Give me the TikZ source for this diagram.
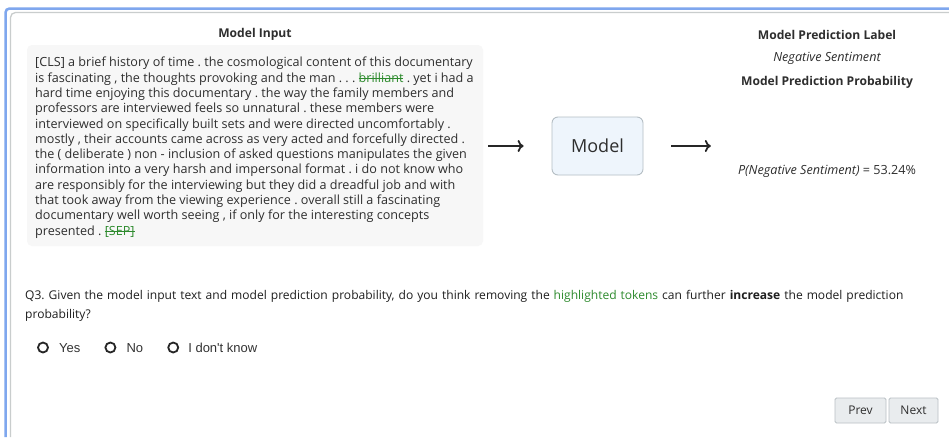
\documentclass[tikz,border=0pt]{standalone}
\usepackage{fontspec}
\setmainfont{Open Sans}
\newfontfamily\radiofont{Liberation Sans}
\usetikzlibrary{positioning,arrows.meta}
\definecolor{framebl}{HTML}{7FA7EE}
\definecolor{framegr}{HTML}{C9CDCD}
\definecolor{inputbg}{HTML}{F7F7F7}
\definecolor{modelbg}{HTML}{EEF5FC}
\definecolor{modelbd}{HTML}{B5BEC4}
\definecolor{hlgreen}{HTML}{2E8B2E}
\definecolor{txtgray}{HTML}{2E2E2E}
\definecolor{btnbg}{HTML}{E9ECEE}
\definecolor{btnbd}{HTML}{B9C0C4}
\newcommand{\hltok}[1]{{\color{hlgreen}\setbox0\hbox{#1}\rlap{\rule[0.3em]{\wd0}{0.7pt}}\box0}}
\frenchspacing
\tikzset{
  heading/.style={font=\fontsize{12.1}{14}\selectfont\bfseries, text=txtgray, inner sep=0},
  predlabel/.style={font=\fontsize{12.6}{14}\selectfont\itshape, text=txtgray, inner sep=0},
  inputtext/.style={font=\fontsize{12.6}{15.3}\selectfont, text=txtgray, align=left, inner sep=0},
  modelbox/.style={draw=modelbd, fill=modelbg, rounded corners=6, line width=0.9,
    minimum width=91, minimum height=58, font=\fontsize{18}{20}\selectfont, text=txtgray},
  flow/.style={-{To[length=6,width=12]}, line width=1.8, draw=black!85},
  radio/.style={circle, draw=black!85, line width=1.8, minimum size=10, inner sep=0},
  radiolbl/.style={font=\radiofont\fontsize{13}{15}\selectfont, text=black!80, inner sep=0,
    text height=9.4, text depth=0},
  navbtn/.style={draw=btnbd, fill=btnbg, line width=0.9, rounded corners=1.5,
    minimum height=25, font=\fontsize{12}{14}\selectfont, text=txtgray}
}
\begin{document}
\begin{tikzpicture}[x=1pt,y=-1pt]
\useasboundingbox (0,0) rectangle (949,437);
\fill[white] (0,0) rectangle (949,437);
% page frame
\draw[framebl, line width=2.5, rounded corners=4] (5.5,437) |- (949,8.5);
\draw[framegr, line width=1.3, rounded corners=5] (10.5,437) |- (949,12.5);
% model input
\node[heading] (inhead) at (255,34.5) {Model Input};
\node[fill=inputbg, rounded corners=5, minimum width=456, minimum height=201] (inputbox) at (255,145.5) {};
\node[inputtext, anchor=north west] (inputtxt) at (35,57) {%
[CLS] a brief history of time . the cosmological content of this documentary\\
is fascinating , the thoughts provoking and the man . . . \hltok{brilliant} . yet i had a\\
hard time enjoying this documentary . the way the family members and\\
professors are interviewed feels so unnatural . these members were\\
interviewed on specifically built sets and were directed uncomfortably .\\
mostly , their accounts came across as very acted and forcefully directed .\\
the ( deliberate ) non - inclusion of asked questions manipulates the given\\
information into a very harsh and impersonal format . i do not know who\\
are responsibly for the interviewing but they did a dreadful job and with\\
that took away from the viewing experience . overall still a fascinating\\
documentary well worth seeing , if only for the interesting concepts\\
presented . \hltok{[SEP]}};
% model
\node[modelbox] (model) at (597.5,146) {Model};
% prediction
\node[heading] (predhead) at (827,34.5) {Model Prediction Label};
\node[predlabel] (predlbl) at (827,58.5) {Negative Sentiment};
\node[heading] (probhead) at (827,82.5) {Model Prediction Probability};
\node[inner sep=0, font=\fontsize{12.6}{14}\selectfont, text=txtgray] (probtxt) at (827,171) {\textit{P(Negative Sentiment)} = 53.24\%};
\draw[flow, shorten <=5, shorten >=28] (inputbox.east |- model.west) -- (model.west);
\draw[flow, shorten <=28, shorten >=27] (model.east) -- (model.east -| probtxt.west);
% question
\node[anchor=north west, inner sep=0, text width=890, align=left,
  font=\fontsize{12.05}{19}\selectfont, text=black!88] (question) at (25,290) {%
Q3. Given the model input text and model prediction probability, do you think removing the {\color{hlgreen}highlighted tokens} can further \textbf{increase} the model prediction probability?};
\node[radio] (ryes) at (43,347.5) {};
\node[radiolbl, right=10 of ryes] (lyes) {Yes};
\node[radio, right=24 of lyes] (rno) {};
\node[radiolbl, right=10 of rno] (lno) {No};
\node[radio, right=24 of lno] (rdk) {};
\node[radiolbl, right=9 of rdk] (ldk) {I don't know};
% buttons
\node[navbtn, minimum width=51] (prev) at (860.5,410.5) {Prev};
\node[navbtn, minimum width=49] (next) at (913.5,410.5) {Next};
\end{tikzpicture}
\end{document}
